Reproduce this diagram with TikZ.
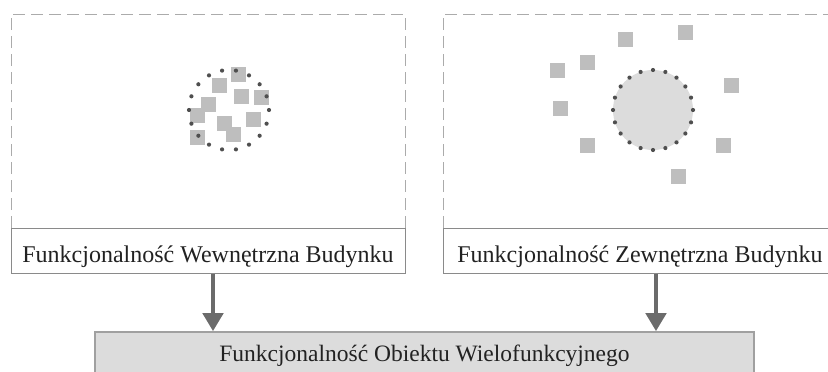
\documentclass[tikz,border=0pt]{standalone}
\usepackage{fontspec}
\setmainfont{Liberation Serif}
\usetikzlibrary{arrows.meta,calc}
\definecolor{dashgray}{HTML}{ABABAB}
\definecolor{boxgray}{HTML}{8A8A8A}
\definecolor{sqgray}{HTML}{BEBEBE}
\definecolor{circfill}{HTML}{DCDCDC}
\definecolor{dotgray}{HTML}{4F4F4F}
\definecolor{arrgray}{HTML}{6B6B6B}
\definecolor{botfill}{HTML}{DCDCDC}
\definecolor{botdraw}{HTML}{A0A0A0}
\definecolor{txt}{HTML}{222222}
\tikzset{
  panel/.style={draw=dashgray, line width=0.9pt, dash pattern=on 12pt off 6pt},
  lblbox/.style={draw=boxgray, line width=1pt, fill=white, minimum width=394pt,
    inner xsep=0pt, inner ysep=0pt, text height=34pt, text depth=11pt,
    font=\fontsize{24}{28}\selectfont, text=txt},
  botbox/.style={draw=botdraw, line width=1.6pt, fill=botfill, minimum width=659pt,
    inner xsep=0pt, inner ysep=0pt, text height=29pt, text depth=14pt,
    font=\fontsize{23.5}{28}\selectfont, text=txt},
  sq/.style={fill=sqgray},
  dotc/.style={fill=dotgray},
  arr/.style={draw=arrgray, line width=4.5pt, -{Triangle[width=20pt,length=18pt]}},
}
\begin{document}
\begin{tikzpicture}[x=1pt,y=-1pt]
\useasboundingbox (0,0) rectangle (828,372);
% panels
\draw[panel] (11,228) -- (11,14) -- (405,14) -- (405,228);
\draw[panel] (443,228) -- (443,14) -- (845,14) -- (845,228);
% left squares
\foreach \x/\y in {238/74,219/85,241/96,261/97,208/104,197/115,253/119,224/123,233/134,197/137}
  \fill[sq] (\x-7.5,\y-7.5) rectangle ++(15,15);
% left dotted circle
\foreach \a in {0,20,...,340}
  \fill[dotc] ($(229,110)+(\a:40)$) circle (2.1pt);
% right circle
\fill[circfill] (653,110) circle (40);
\foreach \a in {0,18,...,342}
  \fill[dotc] ($(653,110)+(\a:40)$) circle (2.1pt);
% right squares
\foreach \x/\y in {625/39,685/32,587/62,557/70,731/85,560/108,587/145,723/145,678/176}
  \fill[sq] (\x-7.5,\y-7.5) rectangle ++(15,15);
% label boxes
\node[lblbox] (lw) at (208,250.5) {Funkcjonalność Wewnętrzna Budynku};
\node[lblbox, minimum width=420pt] (lz) at (653,250.5) {Funkcjonalność Zewnętrzna Budynku\hspace*{26pt}};
\node[botbox] (bot) at (424.5,353.5) {Funkcjonalność Obiektu Wielofunkcyjnego};
% arrows
\draw[arr] ([xshift=5pt]lw.south) -- ([xshift=5pt]lw.south |- bot.north);
\draw[arr] ([xshift=3pt]lz.south) -- ([xshift=3pt]lz.south |- bot.north);
\end{tikzpicture}
\end{document}
